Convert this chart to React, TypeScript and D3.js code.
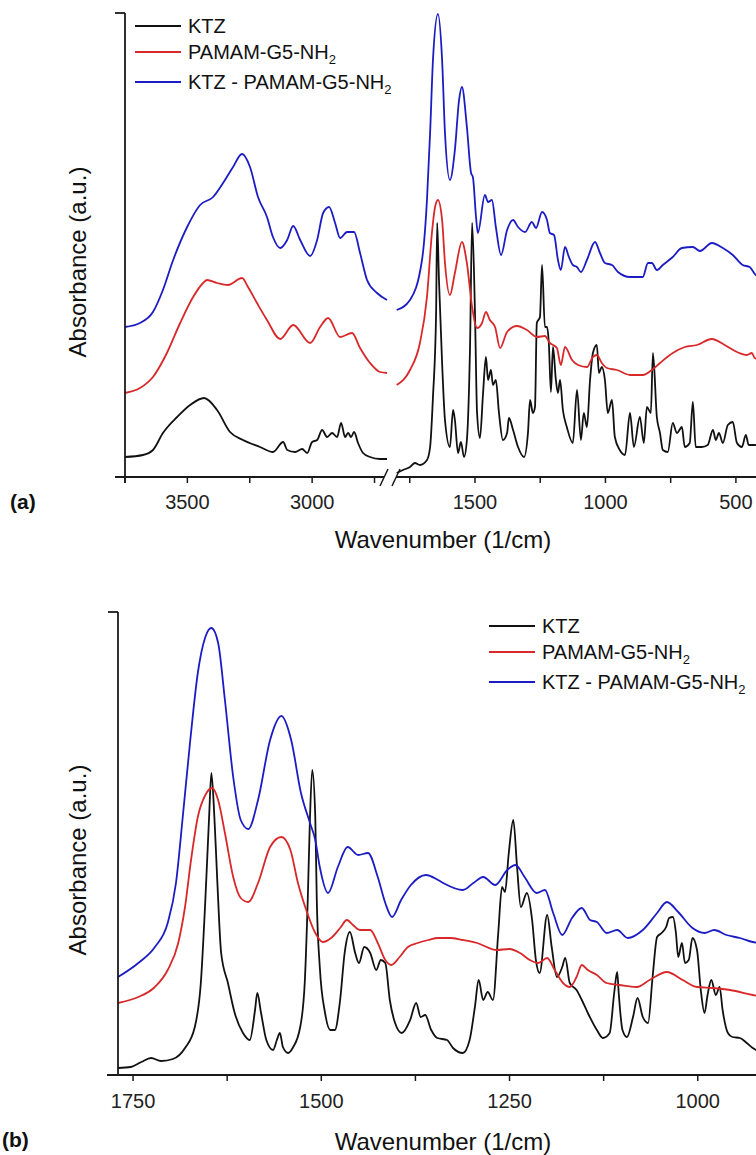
import React from "react";
import * as d3 from "d3";

type Pt = [number, number];

// ---- panel (a): full spectrum, 3750-2700 segment ----
const ktzHigh: Pt[] = [
  [3750, 0.2], [3678, 0.22], [3638, 0.27], [3598, 0.44], [3541, 0.6], [3489, 0.72], [3433, 0.79],
  [3381, 0.67], [3329, 0.45], [3277, 0.37], [3209, 0.3], [3157, 0.25], [3116, 0.35], [3100, 0.27],
  [3068, 0.25], [3040, 0.28], [3020, 0.24], [3000, 0.35], [2980, 0.37], [2960, 0.47], [2940, 0.4],
  [2920, 0.44], [2900, 0.4], [2884, 0.54], [2868, 0.4], [2856, 0.44], [2844, 0.4], [2832, 0.45],
  [2816, 0.34], [2796, 0.24], [2768, 0.2], [2728, 0.18], [2700, 0.18],
];
const pamamHigh: Pt[] = [
  [3750, 0.84], [3690, 0.89], [3638, 1.0], [3582, 1.24], [3529, 1.54], [3477, 1.8], [3437, 1.94],
  [3421, 1.97], [3381, 1.94], [3337, 1.92], [3281, 1.99], [3257, 1.9], [3221, 1.74], [3181, 1.57],
  [3128, 1.38], [3076, 1.52], [3008, 1.34], [2968, 1.5], [2936, 1.59], [2888, 1.4], [2840, 1.44],
  [2808, 1.29], [2768, 1.14], [2728, 1.05], [2700, 1.04],
];
const complexHigh: Pt[] = [
  [3750, 1.5], [3690, 1.54], [3638, 1.65], [3598, 1.87], [3557, 2.17], [3501, 2.5], [3449, 2.72],
  [3397, 2.8], [3357, 2.94], [3317, 3.1], [3281, 3.23], [3249, 3.1], [3217, 2.8], [3181, 2.6],
  [3157, 2.4], [3128, 2.29], [3100, 2.37], [3076, 2.51], [3048, 2.37], [3008, 2.21], [2980, 2.37],
  [2956, 2.64], [2932, 2.7], [2908, 2.54], [2888, 2.39], [2860, 2.45], [2832, 2.45], [2808, 2.24],
  [2780, 1.97], [2740, 1.84], [2700, 1.77],
];

// ---- panel (a): 1800-400 segment ----
const ktzLow: Pt[] = [
  [1800, 0.04], [1776, 0.07], [1749, 0.1], [1730, 0.14], [1711, 0.12], [1684, 0.17], [1672, 0.3],
  [1661, 0.8], [1649, 1.64], [1645, 2.54], [1638, 1.97], [1626, 1.14], [1615, 0.57], [1596, 0.3],
  [1584, 0.67], [1577, 0.57], [1565, 0.24], [1554, 0.35], [1542, 0.2], [1531, 0.37], [1519, 1.3],
  [1511, 2.54], [1500, 1.64], [1492, 0.64], [1481, 0.39], [1469, 0.84], [1458, 1.2], [1450, 0.97],
  [1439, 1.07], [1431, 0.92], [1420, 0.97], [1408, 0.64], [1393, 0.37], [1377, 0.44], [1370, 0.59],
  [1354, 0.47], [1335, 0.3], [1312, 0.2], [1297, 0.44], [1289, 0.77], [1278, 0.64], [1270, 0.7],
  [1263, 1.54], [1251, 1.6], [1243, 2.12], [1232, 1.5], [1224, 1.5], [1217, 1.34], [1209, 0.85],
  [1201, 1.3], [1190, 0.97], [1182, 0.84], [1174, 0.97], [1163, 0.67], [1148, 0.5], [1125, 0.34],
  [1109, 0.87], [1094, 0.37], [1083, 0.64], [1071, 0.5], [1059, 0.97], [1048, 1.24], [1033, 1.32],
  [1025, 1.04], [1014, 1.1], [1002, 0.97], [991, 0.64], [975, 0.77], [964, 0.4], [945, 0.27],
  [925, 0.22], [906, 0.64], [891, 0.3], [868, 0.6], [853, 0.34], [841, 0.7], [826, 0.64],
  [818, 1.24], [803, 0.6], [791, 0.44], [780, 0.27], [761, 0.25], [742, 0.54], [726, 0.44],
  [707, 0.5], [696, 0.3], [677, 0.34], [665, 0.75], [654, 0.3], [631, 0.3], [608, 0.32], [588, 0.47],
  [577, 0.37], [565, 0.44], [550, 0.34], [531, 0.52], [512, 0.55], [496, 0.34], [477, 0.3],
  [462, 0.42], [451, 0.32], [428, 0.32], [400, 0.3],
];
const pamamLow: Pt[] = [
  [1800, 0.92], [1749, 1.07], [1711, 1.34], [1684, 1.8], [1665, 2.44], [1653, 2.7], [1642, 2.77],
  [1626, 2.57], [1615, 2.14], [1596, 1.82], [1577, 2.04], [1550, 2.35], [1531, 2.14], [1511, 1.7],
  [1492, 1.49], [1473, 1.54], [1458, 1.65], [1443, 1.57], [1423, 1.5], [1404, 1.29], [1377, 1.45],
  [1339, 1.51], [1301, 1.47], [1263, 1.4], [1232, 1.41], [1213, 1.34], [1201, 1.32], [1186, 1.29],
  [1171, 1.12], [1155, 1.3], [1128, 1.17], [1105, 1.12], [1071, 1.1], [1048, 1.2], [1033, 1.22],
  [1014, 1.14], [994, 1.09], [956, 1.07], [906, 1.02], [857, 1.02], [822, 1.07], [791, 1.14],
  [742, 1.24], [696, 1.3], [650, 1.32], [592, 1.38], [543, 1.32], [496, 1.25], [458, 1.22],
  [439, 1.24], [428, 1.19], [400, 1.17],
];
const complexLow: Pt[] = [
  [1800, 1.67], [1749, 1.77], [1703, 2.17], [1684, 2.77], [1672, 3.44], [1661, 4.17], [1642, 4.63],
  [1626, 4.17], [1615, 3.44], [1596, 2.97], [1577, 3.27], [1561, 3.77], [1550, 3.9], [1531, 3.5],
  [1515, 3.04], [1508, 3.0], [1496, 2.6], [1489, 2.44], [1462, 2.82], [1450, 2.75], [1435, 2.77],
  [1420, 2.5], [1400, 2.22], [1377, 2.47], [1354, 2.57], [1335, 2.5], [1308, 2.45], [1282, 2.55],
  [1266, 2.49], [1243, 2.65], [1224, 2.57], [1213, 2.44], [1197, 2.42], [1182, 2.17], [1171, 2.07],
  [1155, 2.3], [1140, 2.2], [1125, 2.12], [1109, 2.1], [1094, 2.05], [1071, 2.17], [1040, 2.35],
  [1021, 2.24], [1002, 2.14], [975, 2.12], [952, 2.05], [906, 2.0], [880, 2.0], [857, 2.0],
  [837, 2.14], [822, 2.14], [803, 2.07], [780, 2.12], [742, 2.2], [707, 2.29], [665, 2.3],
  [638, 2.26], [592, 2.34], [550, 2.29], [512, 2.22], [474, 2.12], [447, 2.1], [424, 2.02], [400, 2.0],
];

// ---- panel (b): 1770-920 expansion ----
const ktzZoom: Pt[] = [
  [1770, 0.07], [1753, 0.08], [1739, 0.13], [1726, 0.17], [1713, 0.14], [1697, 0.16], [1681, 0.27],
  [1668, 0.48], [1660, 0.92], [1654, 1.75], [1649, 2.58], [1646, 3.02], [1642, 2.58], [1638, 1.92],
  [1633, 1.22], [1624, 0.92], [1615, 0.62], [1604, 0.42], [1595, 0.35], [1588, 0.65], [1585, 0.82],
  [1580, 0.62], [1573, 0.35], [1564, 0.25], [1559, 0.35], [1555, 0.42], [1551, 0.28], [1544, 0.22],
  [1538, 0.27], [1528, 0.48], [1522, 0.92], [1518, 1.75], [1515, 2.58], [1512, 3.05], [1508, 2.58],
  [1506, 1.75], [1502, 1.08], [1495, 0.62], [1488, 0.45], [1482, 0.45], [1475, 0.75], [1469, 1.22],
  [1462, 1.43], [1455, 1.22], [1450, 1.12], [1443, 1.28], [1435, 1.22], [1427, 1.05], [1421, 1.15],
  [1415, 1.12], [1409, 0.75], [1402, 0.52], [1393, 0.42], [1382, 0.55], [1374, 0.72], [1368, 0.58],
  [1362, 0.6], [1354, 0.45], [1346, 0.37], [1333, 0.35], [1325, 0.27], [1312, 0.22], [1303, 0.35],
  [1296, 0.68], [1291, 0.95], [1285, 0.75], [1279, 0.83], [1272, 0.75], [1265, 1.42], [1260, 1.88],
  [1256, 1.83], [1251, 2.22], [1245, 2.55], [1240, 2.08], [1235, 1.68], [1227, 1.82], [1220, 1.55],
  [1215, 1.15], [1210, 1.02], [1200, 1.6], [1194, 1.28], [1187, 0.98], [1180, 1.08], [1176, 1.17],
  [1170, 0.92], [1161, 0.85], [1154, 0.75], [1146, 0.62], [1134, 0.45], [1126, 0.37], [1117, 0.42],
  [1111, 0.82], [1107, 1.03], [1105, 0.82], [1100, 0.45], [1094, 0.38], [1086, 0.58], [1080, 0.77],
  [1073, 0.58], [1066, 0.52], [1060, 0.98], [1054, 1.38], [1048, 1.42], [1042, 1.48], [1038, 1.57],
  [1033, 1.58], [1029, 1.42], [1026, 1.18], [1021, 1.32], [1017, 1.12], [1012, 1.15], [1007, 1.37],
  [1001, 1.25], [996, 0.85], [991, 0.62], [987, 0.8], [982, 0.95], [976, 0.8], [971, 0.88],
  [967, 0.65], [960, 0.42], [954, 0.38], [944, 0.37], [935, 0.32], [927, 0.27], [920, 0.24],
];
const pamamZoom: Pt[] = [
  [1770, 0.72], [1743, 0.78], [1721, 0.88], [1704, 1.05], [1690, 1.32], [1681, 1.68], [1673, 2.15],
  [1664, 2.58], [1654, 2.8], [1645, 2.87], [1637, 2.75], [1628, 2.42], [1617, 1.98], [1607, 1.77],
  [1597, 1.73], [1584, 1.92], [1568, 2.28], [1553, 2.38], [1541, 2.25], [1531, 1.92], [1520, 1.65],
  [1508, 1.42], [1498, 1.33], [1487, 1.37], [1475, 1.47], [1466, 1.55], [1458, 1.5], [1449, 1.45],
  [1435, 1.45], [1425, 1.32], [1415, 1.15], [1407, 1.1], [1396, 1.18], [1385, 1.28], [1372, 1.32],
  [1358, 1.35], [1345, 1.37], [1329, 1.37], [1312, 1.35], [1293, 1.32], [1267, 1.25], [1250, 1.26],
  [1236, 1.22], [1223, 1.15], [1212, 1.12], [1200, 1.17], [1190, 1.05], [1179, 0.92], [1170, 0.88],
  [1161, 0.98], [1154, 1.1], [1146, 1.05], [1134, 1.0], [1121, 0.92], [1104, 0.9], [1081, 0.88],
  [1064, 0.95], [1041, 1.03], [1020, 0.95], [1001, 0.88], [980, 0.87], [957, 0.85], [927, 0.8],
  [920, 0.79],
];
const complexZoom: Pt[] = [
  [1770, 0.98], [1743, 1.12], [1721, 1.28], [1704, 1.52], [1693, 1.92], [1684, 2.58], [1674, 3.35],
  [1664, 4.02], [1654, 4.38], [1646, 4.47], [1637, 4.32], [1628, 3.75], [1617, 2.98], [1607, 2.55],
  [1597, 2.46], [1584, 2.75], [1568, 3.35], [1553, 3.59], [1540, 3.35], [1527, 2.82], [1515, 2.52],
  [1508, 2.35], [1502, 2.08], [1491, 1.82], [1478, 2.08], [1465, 2.28], [1451, 2.2], [1438, 2.22],
  [1425, 1.98], [1415, 1.72], [1406, 1.58], [1394, 1.75], [1381, 1.9], [1361, 2.0], [1345, 1.95],
  [1338, 1.92], [1312, 1.85], [1298, 1.92], [1285, 1.98], [1269, 1.9], [1253, 2.05], [1242, 2.1],
  [1230, 1.98], [1214, 1.82], [1203, 1.85], [1192, 1.62], [1180, 1.4], [1167, 1.57], [1154, 1.67],
  [1143, 1.55], [1134, 1.53], [1121, 1.42], [1107, 1.45], [1093, 1.37], [1073, 1.45], [1054, 1.62],
  [1041, 1.73], [1026, 1.63], [1007, 1.47], [991, 1.42], [978, 1.45], [962, 1.4], [944, 1.37],
  [927, 1.33], [920, 1.32],
];

const ticksAHigh = [3750, 3500, 3250, 3000, 2750];
const labelsAHigh = [3500, 3000];
const ticksALow = [1750, 1500, 1250, 1000, 750, 500];
const labelsALow = [1500, 1000, 500];
const ticksB = [1750, 1625, 1500, 1375, 1250, 1125, 1000];
const labelsB = [1750, 1500, 1250, 1000];

const seriesNames = ["KTZ", "PAMAM-G5-NH", "KTZ - PAMAM-G5-NH"];
const seriesSub = ["", "2", "2"];
const seriesColors = ["#111111", "#d8282a", "#1c1cc4"];

const FONT = "'Liberation Sans', Arial, Helvetica, sans-serif";
const AXIS = "#1a1a1a";
const SW = 1.8;

// panel (a) scales
const xAHigh = d3.scaleLinear().domain([3750, 2700]).range([125, 387]);
const xALow = d3.scaleLinear().domain([1800, 400]).range([396.7, 762]);
const yA = d3.scaleLinear().domain([0, 4.64]).range([477, 13]);
// panel (b) scales
const xB = d3.scaleLinear().domain([1770, 920]).range([118, 758]);
const yB = d3.scaleLinear().domain([0, 4.63]).range([1075, 612]);

const mkLine = (x: d3.ScaleLinear<number, number>, y: d3.ScaleLinear<number, number>) =>
  d3.line<Pt>().x((d) => x(d[0])).y((d) => y(d[1])).curve(d3.curveMonotoneX);

const Legend = ({ x, y }: { x: number; y: number }) => {
  const offs = [0, 26, 56];
  return (
    <g>
      {seriesNames.map((n, i) => (
        <g key={n}>
          <line x1={x} x2={x + 46} y1={y + offs[i]} y2={y + offs[i]} stroke={seriesColors[i]} strokeWidth={SW} />
          <text x={x + 53} y={y + offs[i] + 7} fontSize={20} fontFamily={FONT} fill="#111">
            {n}
            {seriesSub[i] && (
              <tspan dy={5} fontSize={13}>
                {seriesSub[i]}
              </tspan>
            )}
          </text>
        </g>
      ))}
    </g>
  );
};

const App = () => {
  const lineAH = mkLine(xAHigh, yA);
  const lineAL = mkLine(xALow, yA);
  const lineB = mkLine(xB, yB);
  const aHigh = [ktzHigh, pamamHigh, complexHigh];
  const aLow = [ktzLow, pamamLow, complexLow];
  const bData = [ktzZoom, pamamZoom, complexZoom];
  const axYA = yA(0);
  const axYB = yB(0);

  return (
    <svg
      width={756}
      height={1155}
      style={{ position: "absolute", left: 0, top: 0, background: "#fff" }}
    >
      {/* ---------- panel (a) ---------- */}
      <g>
        {aHigh.map((d, i) => (
          <path key={"ah" + i} d={lineAH(d) || ""} fill="none" stroke={seriesColors[i]} strokeWidth={SW} />
        ))}
        {aLow.map((d, i) => (
          <path key={"al" + i} d={lineAL(d) || ""} fill="none" stroke={seriesColors[i]} strokeWidth={SW} />
        ))}
        {/* y axis */}
        <line x1={125} x2={125} y1={yA(4.64)} y2={axYA + 6} stroke={AXIS} strokeWidth={1.8} />
        <line x1={115} x2={125} y1={yA(4.64)} y2={yA(4.64)} stroke={AXIS} strokeWidth={1.8} />
        {/* x axis with break */}
        <line x1={115} x2={384} y1={axYA} y2={axYA} stroke={AXIS} strokeWidth={1.8} />
        <line x1={396} x2={762} y1={axYA} y2={axYA} stroke={AXIS} strokeWidth={1.8} />
        <line x1={380} x2={388} y1={axYA + 9} y2={axYA - 8} stroke={AXIS} strokeWidth={1.5} />
        <line x1={392} x2={400} y1={axYA + 9} y2={axYA - 8} stroke={AXIS} strokeWidth={1.5} />
        {ticksAHigh.map((t) => (
          <line key={"th" + t} x1={xAHigh(t)} x2={xAHigh(t)} y1={axYA} y2={axYA + 6} stroke={AXIS} strokeWidth={1.5} />
        ))}
        {ticksALow.map((t) => (
          <line key={"tl" + t} x1={xALow(t)} x2={xALow(t)} y1={axYA} y2={axYA + 6} stroke={AXIS} strokeWidth={1.5} />
        ))}
        {labelsAHigh.map((t) => (
          <text key={"lh" + t} x={xAHigh(t)} y={509} textAnchor="middle" fontSize={20} fontFamily={FONT} fill="#222">
            {t}
          </text>
        ))}
        {labelsALow.map((t) => (
          <text key={"ll" + t} x={xALow(t)} y={509} textAnchor="middle" fontSize={20} fontFamily={FONT} fill="#222">
            {t}
          </text>
        ))}
        <text x={443} y={548} textAnchor="middle" fontSize={24} fontFamily={FONT} fill="#111">
          Wavenumber (1/cm)
        </text>
        <text transform="translate(86,262) rotate(-90)" textAnchor="middle" fontSize={24} fontFamily={FONT} fill="#111">
          Absorbance (a.u.)
        </text>
        <text x={10} y={509} fontSize={21} fontWeight="bold" fontFamily={FONT} fill="#111">
          (a)
        </text>
        <Legend x={135} y={26} />
      </g>

      {/* ---------- panel (b) ---------- */}
      <g>
        {bData.map((d, i) => (
          <path key={"b" + i} d={lineB(d) || ""} fill="none" stroke={seriesColors[i]} strokeWidth={SW} />
        ))}
        <line x1={118} x2={118} y1={yB(4.63)} y2={axYB} stroke={AXIS} strokeWidth={1.8} />
        <line x1={108} x2={118} y1={yB(4.63)} y2={yB(4.63)} stroke={AXIS} strokeWidth={1.8} />
        <line x1={107} x2={760} y1={axYB} y2={axYB} stroke={AXIS} strokeWidth={1.8} />
        {ticksB.map((t) => (
          <line key={"tb" + t} x1={xB(t)} x2={xB(t)} y1={axYB} y2={axYB + 6} stroke={AXIS} strokeWidth={1.5} />
        ))}
        {labelsB.map((t) => (
          <text key={"lb" + t} x={xB(t)} y={1108} textAnchor="middle" fontSize={20} fontFamily={FONT} fill="#222">
            {t}
          </text>
        ))}
        <text x={443} y={1150} textAnchor="middle" fontSize={24} fontFamily={FONT} fill="#111">
          Wavenumber (1/cm)
        </text>
        <text transform="translate(86,860) rotate(-90)" textAnchor="middle" fontSize={24} fontFamily={FONT} fill="#111">
          Absorbance (a.u.)
        </text>
        <text x={2} y={1147} fontSize={21} fontWeight="bold" fontFamily={FONT} fill="#111">
          (b)
        </text>
        <Legend x={489} y={626} />
      </g>
    </svg>
  );
};

export default App;
